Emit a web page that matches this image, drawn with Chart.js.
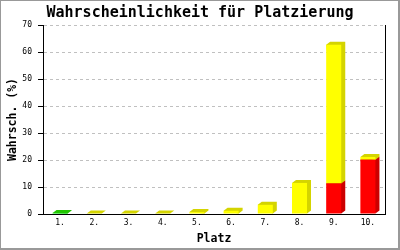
<!DOCTYPE html>
<html>
<head>
<meta charset="utf-8">
<script src="https://cdn.jsdelivr.net/npm/chart.js@4.4.0/dist/chart.umd.min.js"></script>
<style>
  html, body { margin: 0; padding: 0; background: #fff; }
</style>
</head>
<body>
<canvas id="myChart" width="400" height="250"></canvas>
<script>
// data
const places = ['1.', '2.', '3.', '4.', '5.', '6.', '7.', '8.', '9.', '10.'];
const redValues = [0, 0, 0, 0, 0, 0, 0, 0, 11.3, 20.1];
const greenValues = [0.4, 0, 0, 0, 0, 0, 0, 0, 0, 0];
const yellowValues = [0, 0.2, 0.2, 0.2, 0.7, 1.2, 3.4, 11.5, 51.4, 1.0];
const yMax = 70;
const yStep = 10;

const mono = 'DejaVu Sans Mono';

// frame around the whole picture
const frame = {
    id: 'frame',
    beforeDraw(chart) {
        const c = chart.ctx;
        c.save();
        c.fillStyle = '#fff';
        c.fillRect(0, 0, chart.width, chart.height);
        c.fillStyle = '#999';
        c.fillRect(0, 0, chart.width, 1);
        c.fillRect(0, 0, 1, chart.height);
        c.fillRect(chart.width - 2, 0, 2, chart.height);
        c.fillRect(0, chart.height - 2, chart.width, 2);
        c.restore();
    }
};

// top + side faces so the bars look 3d
const depthBars = {
    id: 'depthBars',
    beforeDatasetsDraw(chart) {
        const c = chart.ctx;
        const dx = 4, dy = 3;
        c.save();
        chart.data.datasets.forEach((ds, i) => {
            const meta = chart.getDatasetMeta(i);
            meta.data.forEach((bar, j) => {
                if (!ds.data[j]) return;
                const p = bar.getProps(['x', 'y', 'base', 'width'], true);
                const x0 = p.x - p.width / 2;
                const x1 = p.x + p.width / 2;
                c.fillStyle = ds.sideColor;
                c.beginPath();
                c.moveTo(x0, p.y);
                c.lineTo(x0 + dx, p.y - dy);
                c.lineTo(x1 + dx, p.y - dy);
                c.lineTo(x1 + dx, p.base - dy);
                c.lineTo(x1, p.base);
                c.closePath();
                c.fill();
            });
        });
        c.restore();
    }
};

const ctx = document.getElementById('myChart').getContext('2d');

let myChart = new Chart(ctx, {
    type: 'bar',
    data: {
        labels: places,
        datasets: [
            { data: redValues, backgroundColor: '#ff0000', sideColor: '#cc0000' },
            { data: greenValues, backgroundColor: '#00dd00', sideColor: '#22c400' },
            { data: yellowValues, backgroundColor: '#ffff00', sideColor: '#d4d400' }
        ]
    },
    options: {
        responsive: false,
        animation: false,
        devicePixelRatio: 1,
        layout: { padding: 0 },
        datasets: {
            bar: {
                categoryPercentage: 1,
                barPercentage: 0.44,
                borderWidth: 0
            }
        },
        plugins: {
            legend: { display: false },
            tooltip: { enabled: false },
            title: {
                display: true,
                text: 'Wahrscheinlichkeit für Platzierung',
                color: '#000',
                font: { family: mono, size: 15, weight: 'bold', lineHeight: 1.2 },
                padding: { top: 4, bottom: 3 }
            }
        },
        scales: {
            x: {
                stacked: true,
                grid: { display: false, drawTicks: false },
                border: { color: '#000', width: 1 },
                ticks: {
                    color: '#000',
                    padding: 4,
                    maxRotation: 0,
                    autoSkip: false,
                    font: { family: mono, size: 8 }
                },
                title: {
                    display: true,
                    text: 'Platz',
                    color: '#000',
                    font: { family: mono, size: 11.5, weight: 'bold' },
                    padding: { top: 0, bottom: 4 }
                },
                afterFit(scale) { scale.height = 36; }
            },
            y: {
                stacked: true,
                min: 0,
                max: yMax,
                grid: {
                    color: (c) => c.tick && c.tick.value === 0 ? 'rgba(0,0,0,0)' : '#c0c0c0',
                    tickColor: '#000',
                    tickLength: 5,
                    lineWidth: 1
                },
                border: { color: '#000', width: 1, dash: [3, 3] },
                ticks: {
                    stepSize: yStep,
                    color: '#000',
                    padding: 6,
                    font: { family: mono, size: 8 }
                },
                title: {
                    display: true,
                    text: 'Wahrsch. (%)',
                    color: '#000',
                    font: { family: mono, size: 11.5, weight: 'bold' },
                    padding: { top: 6, bottom: 0 }
                },
                afterFit(scale) { scale.width = 43; }
            },
            y2: {
                position: 'right',
                grid: { drawOnChartArea: false, drawTicks: false },
                border: { color: '#000', width: 1 },
                ticks: { display: false },
                afterFit(scale) { scale.width = 15; }
            }
        }
    },
    plugins: [frame, depthBars]
});
</script>
</body>
</html>
